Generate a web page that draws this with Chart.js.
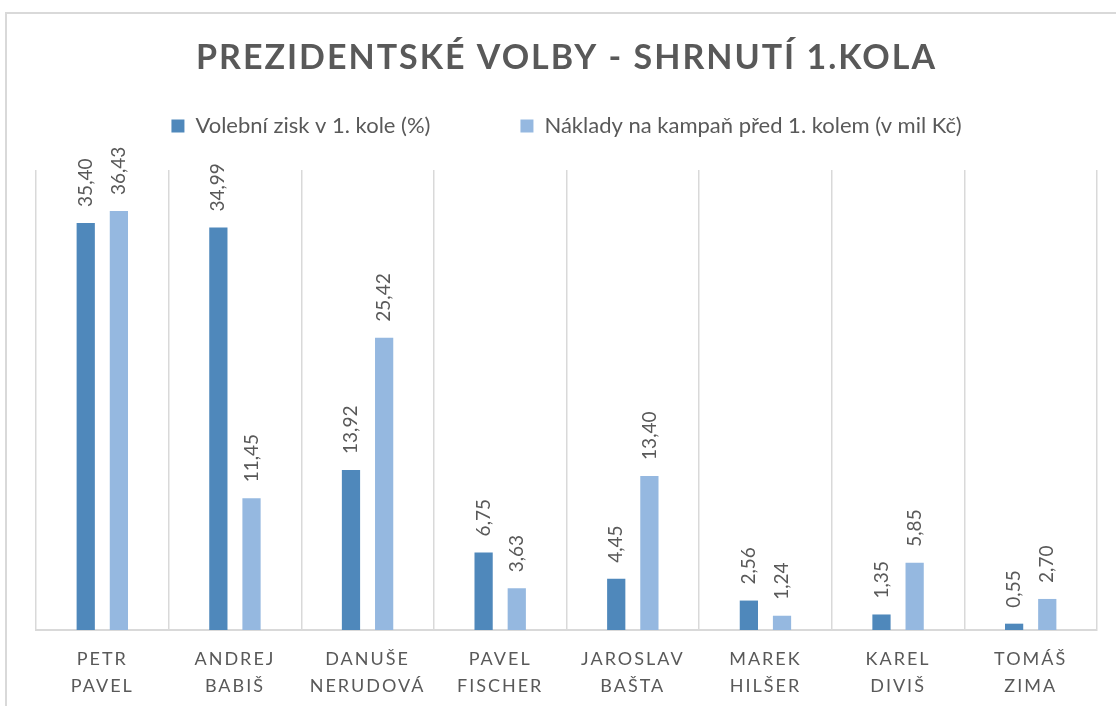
<!DOCTYPE html>
<html>
<head>
<meta charset="utf-8">
<script src="https://cdn.jsdelivr.net/npm/chart.js@4.4.1/dist/chart.umd.min.js"></script>
<style>
    html, body { margin: 0; padding: 0; background: #fff; }
    #wrap { position: relative; width: 1116px; height: 706px; overflow: hidden; }
    #frame
    {
        position: absolute; left: 5px; top: 12px; width: 1200px; height: 800px;
        border-top: 2px solid #d9d9d9; border-left: 2px solid #d9d9d9;
        pointer-events: none;
    }
</style>
</head>
<body>
<div id="wrap">
    <canvas id="chart_canvas"></canvas>
    <div id="frame"></div>
</div>
<script>
/* data */
const chart_title = 'PREZIDENTSKÉ VOLBY - SHRNUTÍ 1.KOLA';
const candidates = [
    ['PETR', 'PAVEL'], ['ANDREJ', 'BABIŠ'], ['DANUŠE', 'NERUDOVÁ'], ['PAVEL', 'FISCHER'],
    ['JAROSLAV', 'BAŠTA'], ['MAREK', 'HILŠER'], ['KAREL', 'DIVIŠ'], ['TOMÁŠ', 'ZIMA']
];
const series_names = [ 'Volební zisk v 1. kole (%)', 'Náklady na kampaň před 1. kolem (v mil Kč)' ];
const vote_share = [ 35.40, 34.99, 13.92, 6.75, 4.45, 2.56, 1.35, 0.55 ];
const campaign_cost = [ 36.43, 11.45, 25.42, 3.63, 13.40, 1.24, 5.85, 2.70 ];

const text_grey = '#595959';
const colours = [ '#4f88bb', '#95b8e0' ];

function fmt ( v )
{
    return v.toFixed(2).replace('.', ',');
}

// title, two-line category names and rotated value labels
const text_plugin =
{
    id: 'text_plugin',
    afterDatasetsDraw: function (chart)
    {
        const ctx = chart.ctx;
        ctx.save();
        ctx.fillStyle = text_grey;
        ctx.font = '19px Lato';
        ctx.textAlign = 'left';
        ctx.textBaseline = 'middle';
        chart.data.datasets.forEach(function (ds, di)
        {
            chart.getDatasetMeta(di).data.forEach(function (bar, ii)
            {
                ctx.save();
                ctx.translate(bar.x, bar.y - 16);
                ctx.rotate(-Math.PI / 2);
                ctx.fillText(fmt(ds.data[ii]), 0, 0);
                ctx.restore();
            });
        });
        ctx.restore();
    },
    afterDraw: function (chart)
    {
        const ctx = chart.ctx;
        const area = chart.chartArea;
        const x_scale = chart.scales.x;

        ctx.save();
        ctx.fillStyle = text_grey;
        ctx.textAlign = 'center';
        ctx.textBaseline = 'alphabetic';

        ctx.font = 'bold 34px Lato';
        ctx.letterSpacing = '2px';
        ctx.fillText(chart_title, (area.left + area.right) / 2, 69);

        ctx.font = '18px Lato';
        ctx.letterSpacing = '2px';
        candidates.forEach(function (lines, ii)
        {
            const x = x_scale.getPixelForTick(ii);
            ctx.fillText(lines[0], x, area.bottom + 35);
            ctx.fillText(lines[1], x, area.bottom + 62);
        });
        ctx.restore();
    }
};

const data =
{
    labels: candidates.map(function (c) { return c.join(' '); }),
    datasets: [
        {
            label: series_names[0],
            data: vote_share,
            backgroundColor: colours[0],
            categoryPercentage: 0.5,
            barPercentage: 0.55
        },
        {
            label: series_names[1],
            data: campaign_cost,
            backgroundColor: colours[1],
            categoryPercentage: 0.5,
            barPercentage: 0.55
        }
    ]
};

const options =
{
    responsive: true,
    maintainAspectRatio: false,
    animation: false,
    layout: { padding: { left: 36, right: 19, top: 25, bottom: 76 } },
    scales:
    {
        x:
        {
            grid: { offset: true, color: '#d9d9d9', lineWidth: 1.5, drawTicks: false },
            border: { display: true, color: '#d9d9d9', width: 2 },
            ticks: { display: false }
        },
        y: { display: false, min: 0, max: 40 }
    },
    plugins:
    {
        legend:
        {
            position: 'top',
            labels:
            {
                boxWidth: 13, boxHeight: 13, padding: 90,
                color: text_grey,
                font: { family: 'Lato', size: 22 }
            }
        },
        // empty subtitle just keeps a gap between legend and plot
        subtitle:
        {
            display: true, text: ' ', weight: 500, position: 'top',
            font: { size: 10 }, padding: { top: 4, bottom: 7 }
        },
        title: { display: false },
        tooltip: { enabled: false }
    }
};

Chart.defaults.font.family = 'Lato';
const chart = new Chart(document.getElementById('chart_canvas'),
    { type: 'bar', data: data, options: options, plugins: [ text_plugin ] });
</script>
</body>
</html>
